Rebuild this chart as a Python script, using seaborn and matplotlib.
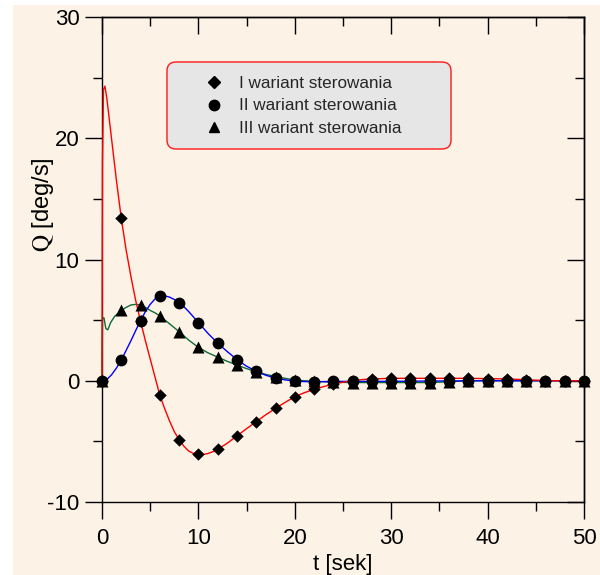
import matplotlib
matplotlib.use("Agg")
import matplotlib.pyplot as plt
import seaborn as sns
from matplotlib.patches import FancyBboxPatch, Rectangle
from matplotlib.lines import Line2D
from matplotlib.transforms import IdentityTransform
from matplotlib.ticker import MultipleLocator

# ---------------- data ----------------
# continuous responses
t_I = [0, 0.05, 0.15, 0.3, 0.5, 1.0, 1.5, 2.0, 2.5, 3.0, 3.5, 4.0, 4.5, 5.0, 5.5,
       6.0, 6.5, 7.0, 7.5, 8.0, 8.5, 9.0, 9.5, 10.0, 10.5, 11.0, 11.5, 12.0, 13, 14,
       15, 16, 17, 18, 19, 20, 21, 22, 23, 24, 25, 26, 27, 28, 30, 34, 38, 42, 45, 47, 50]
q_I = [0, 18.0, 24.0, 24.3, 23.3, 19.9, 16.5, 13.4, 10.8, 8.6, 6.6, 4.9, 3.3, 1.8, 0.3,
       -1.2, -2.3, -3.3, -4.2, -4.85, -5.4, -5.8, -6.0, -6.08, -6.08, -6.0, -5.85, -5.65, -5.15, -4.55,
       -3.95, -3.38, -2.8, -2.28, -1.78, -1.32, -0.98, -0.72, -0.48, -0.28, -0.12, 0.0, 0.1, 0.15, 0.2, 0.2, 0.2, 0.15, 0.05, 0.0, 0.0]

t_II = [0, 0.5, 1.0, 1.5, 2.0, 2.5, 3.0, 3.5, 4.0, 4.5, 5.0, 5.5, 6.0, 6.5, 7.0, 7.5,
        8.0, 8.5, 9.0, 9.5, 10, 10.5, 11, 11.5, 12, 13, 14, 15, 16, 17, 18, 19, 20,
        21, 22, 24, 26, 30, 35, 40, 50]
q_II = [0, 0.1, 0.5, 1.05, 1.7, 2.5, 3.3, 4.15, 4.95, 5.7, 6.3, 6.75, 6.97, 7.0, 6.9, 6.7,
        6.45, 6.1, 5.7, 5.25, 4.8, 4.35, 3.9, 3.5, 3.1, 2.4, 1.75, 1.2, 0.78, 0.45, 0.22, 0.07, -0.02,
        -0.07, -0.08, -0.06, -0.05, -0.05, -0.02, 0.0, 0.0]

t_III = [0, 0.05, 0.2, 0.4, 0.6, 0.9, 1.3, 2.0, 2.5, 3.0, 3.5, 4.0, 4.5, 5.0, 5.5, 6.0,
         7, 8, 9, 10, 11, 12, 13, 14, 15, 16, 17, 18, 19, 20, 22, 24, 26, 30, 34, 36, 38, 50]
q_III = [0, 5.1, 5.2, 4.3, 4.2, 4.8, 5.3, 5.8, 6.05, 6.25, 6.3, 6.25, 6.05, 5.8, 5.6, 5.35,
         4.7, 4.05, 3.35, 2.75, 2.3, 1.95, 1.6, 1.3, 1.0, 0.75, 0.52, 0.35, 0.2, 0.05, -0.05, -0.12, -0.15, -0.15, -0.15, -0.08, 0.0, 0.0]

# markers every 2 s
t_mark = [0, 2, 4, 6, 8, 10, 12, 14, 16, 18, 20, 22, 24, 26, 28, 30, 32, 34, 36, 38, 40, 42, 44, 46, 48, 50]
m_I = [0, 13.4, 4.95, -1.2, -4.85, -6.05, -5.65, -4.55, -3.38, -2.28, -1.32, -0.72, -0.28,
       0.0, 0.15, 0.2, 0.2, 0.2, 0.2, 0.2, 0.18, 0.15, 0.1, 0.02, 0.0, 0.0]
m_II = [0, 1.7, 4.95, 6.97, 6.45, 4.8, 3.1, 1.75, 0.78, 0.22, -0.02, -0.08, -0.06,
        -0.05, -0.05, -0.05, -0.05, -0.05, -0.03, -0.02, 0.0, 0.0, 0.0, 0.0, 0.0, 0.0]
m_III = [0, 5.8, 6.25, 5.35, 4.05, 2.75, 1.95, 1.3, 0.75, 0.35, 0.05, -0.05, -0.12,
         -0.15, -0.15, -0.15, -0.15, -0.15, -0.08, 0.0, 0.0, 0.0, 0.0, 0.0, 0.0, 0.0]

labels = ["I wariant sterowania", "II wariant sterowania", "III wariant sterowania"]
x_ticks = [0, 10, 20, 30, 40, 50]
y_ticks = [-10, 0, 10, 20, 30]

# ---------------- style ----------------
BG = "#FDF2E6"
sns.set_theme(style="ticks")
plt.rcParams["font.family"] = ["Liberation Sans", "DejaVu Sans"]
plt.rcParams["mathtext.fontset"] = "stix"
plt.rcParams["axes.unicode_minus"] = False

fig = plt.figure(figsize=(6, 5.75), dpi=100, facecolor="white")
fig.add_artist(Rectangle((13 / 600, 0), 1 - 13 / 600, 570 / 575, transform=fig.transFigure,
                         facecolor=BG, edgecolor="none", zorder=-10))
ax = fig.add_axes([102 / 600, 73 / 575, 482 / 600, 485 / 575])
ax.set_facecolor(BG)

# lines (drawn above the spines so the jump at t=0 stays visible)
sns.lineplot(x=t_III, y=q_III, color="#0B6B35", linewidth=1.0, errorbar=None, ax=ax,
             zorder=2.6, clip_on=False)
sns.lineplot(x=t_II, y=q_II, color="#0000FF", linewidth=1.0, errorbar=None, ax=ax,
             zorder=2.6, clip_on=False)
sns.lineplot(x=t_I, y=q_I, color="#FF0000", linewidth=1.0, errorbar=None, ax=ax,
             zorder=2.7, clip_on=False)

# markers
sns.scatterplot(x=t_mark, y=m_I, marker="D", s=40, color="black", edgecolor="black", linewidth=0,
                ax=ax, zorder=3, clip_on=False)
sns.scatterplot(x=t_mark, y=m_III, marker="^", s=75, color="black", edgecolor="black", linewidth=0,
                ax=ax, zorder=3, clip_on=False)
sns.scatterplot(x=t_mark, y=m_II, marker="o", s=72, color="black", edgecolor="black", linewidth=0,
                ax=ax, zorder=3, clip_on=False)

ax.set_xlim(0, 50)
ax.set_ylim(-10, 30)
ax.set_xticks(x_ticks)
ax.set_yticks(y_ticks)
ax.xaxis.set_minor_locator(MultipleLocator(5))
ax.yaxis.set_minor_locator(MultipleLocator(5))
for s in ax.spines.values():
    s.set_visible(True)
    s.set_color("black")
    s.set_linewidth(1.0)
ax.tick_params(which="major", direction="out", length=12, width=1.0, color="black",
               labelsize=16, labelcolor="black")
ax.tick_params(which="minor", direction="out", length=6.5, width=1.0, color="black")
ax.tick_params(axis="y", which="major", pad=4.3)
ax.tick_params(axis="x", which="major", pad=7)

secx = ax.secondary_xaxis("top")
secx.set_xticks(x_ticks)
secx.xaxis.set_minor_locator(MultipleLocator(5))
secx.tick_params(which="major", direction="in", length=12, width=1.0, color="black", labeltop=False)
secx.tick_params(which="minor", direction="in", length=6.5, width=1.0, color="black")
secy = ax.secondary_yaxis("right")
secy.set_yticks(y_ticks)
secy.yaxis.set_minor_locator(MultipleLocator(5))
secy.tick_params(which="major", direction="in", length=12, width=1.0, color="black", labelright=False)
secy.tick_params(which="minor", direction="in", length=6.5, width=1.0, color="black")
for sa in (secx, secy):
    for s in sa.spines.values():
        s.set_linewidth(1.0)
        s.set_color("black")

ax.set_xlabel("t [sek]", fontsize=16, labelpad=3.5, color="black")
ax.set_ylabel(r"$\mathrm{Q}$ [deg/s]", fontsize=17, color="black")
ax.yaxis.label.set_va("center")
ax.yaxis.set_label_coords(-0.122, 0.614)

# legend
box = FancyBboxPatch((167, 426), 284, 87, boxstyle="round,pad=0,rounding_size=9",
                     transform=IdentityTransform(), facecolor="#E6E6E6", edgecolor="#FF1A1A",
                     linewidth=1.0, zorder=4, clip_on=False)
ax.add_artist(box)
handles = [Line2D([], [], marker="D", color="black", linestyle="none", markersize=5.8),
           Line2D([], [], marker="o", color="black", linestyle="none", markersize=7.5),
           Line2D([], [], marker="^", color="black", linestyle="none", markersize=7.5)]
leg = ax.legend(handles, labels, loc="center", bbox_to_anchor=(303.5, 575 - 106),
                bbox_transform=IdentityTransform(), frameon=False, fontsize=12.3,
                handlelength=1.0, handletextpad=0.95, labelspacing=0.42, borderpad=0,
                borderaxespad=0)
leg.set_zorder(6)

fig.savefig("out.png", dpi=100, facecolor="white")
